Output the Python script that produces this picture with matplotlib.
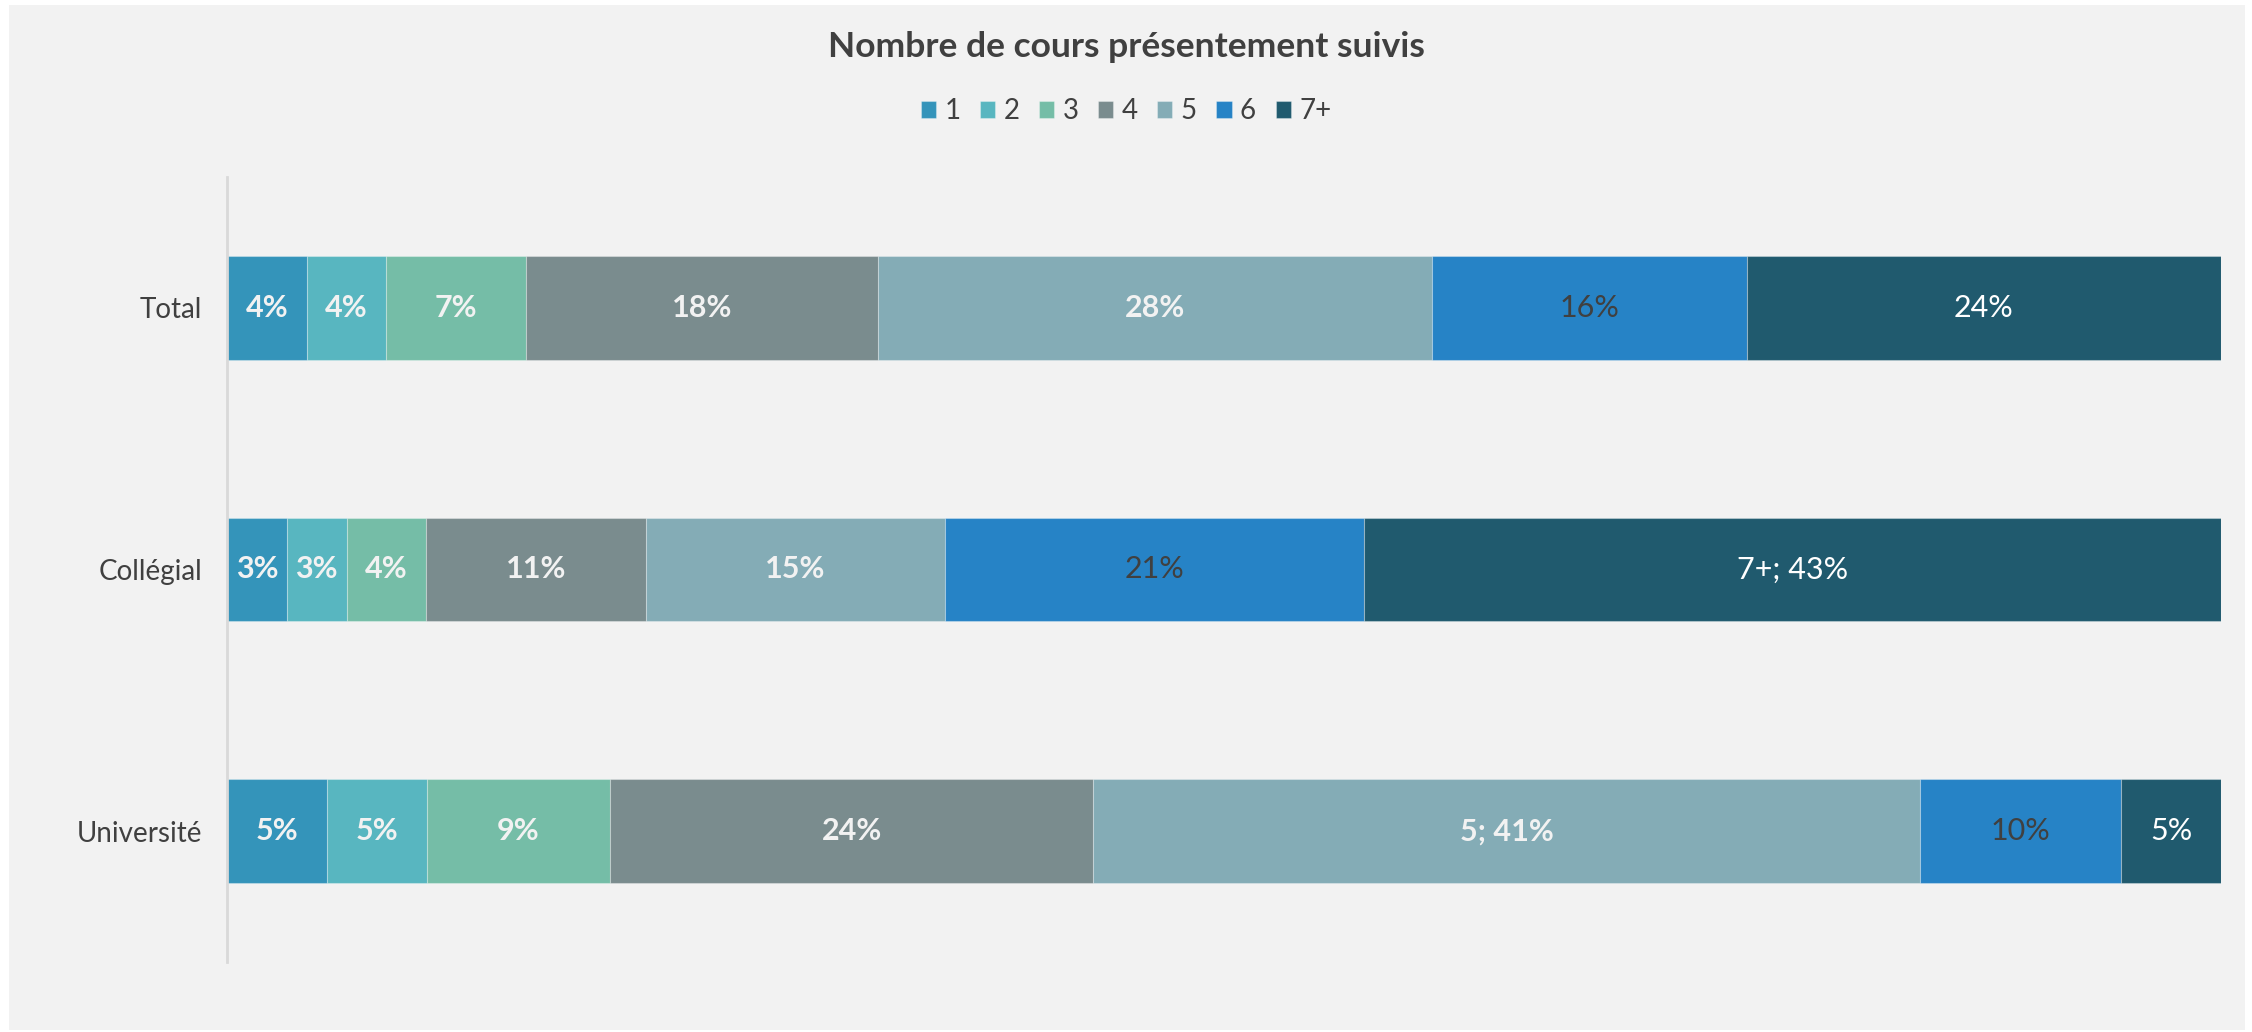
import matplotlib
matplotlib.use("Agg")
import matplotlib.pyplot as plt
from matplotlib.patches import Rectangle
import numpy as np

categories = ["Total", "Collégial", "Université"]
series_names = ["1", "2", "3", "4", "5", "6", "7+"]
s1 = [4.0, 3.0, 5.0]
s2 = [4.0, 3.0, 5.0]
s3 = [7.0, 4.0, 9.2]
s4 = [17.7, 11.0, 24.2]
s5 = [27.8, 15.0, 41.4]
s6 = [15.8, 21.0, 10.1]
s7 = [23.8, 43.0, 5.0]
series_values = [s1, s2, s3, s4, s5, s6, s7]
# data labels that show the series name too: (category, series)
name_labels = [("Collégial", "7+"), ("Université", "5")]

colors = ["#3494BA", "#58B6C0", "#75BDA7", "#7A8C8E", "#84ACB6", "#2683C6", "#205A6E"]
label_colors = ["#F2F2F2"] * 5 + ["#404040", "#FFFFFF"]
label_weights = ["bold"] * 5 + ["normal", "normal"]

plt.rcParams["font.family"] = ["Lato", "DejaVu Sans"]

W, H = 2252, 1032
fig = plt.figure(figsize=(W / 100, H / 100), dpi=100, facecolor="white")
fig.patches.append(Rectangle((9 / W, 2 / H), (2245 - 9) / W, (1027 - 2) / H,
                             transform=fig.transFigure, facecolor="#F2F2F2",
                             edgecolor="none", zorder=-10))

ax_left, ax_right = 227 / W, 2221 / W
ax_top, ax_bot = 1 - 177 / H, 1 - 962 / H
ax = fig.add_axes([ax_left, ax_bot, ax_right - ax_left, ax_top - ax_bot])
ax.set_facecolor("none")
ax.set_zorder(5)

vals = np.array(series_values, dtype=float)
totals = vals.sum(axis=0)
shares = vals / totals * 100
ypos = np.arange(len(categories))[::-1]
left = np.zeros(len(categories))
for i, name in enumerate(series_names):
    ax.barh(ypos, shares[i], left=left, height=0.395, color=colors[i],
            edgecolor=(1, 1, 1, 0.3), linewidth=0.8, label=name, zorder=2)
    for j, cat in enumerate(categories):
        txt = f"{vals[i, j]:.0f}%"
        if (cat, name) in name_labels:
            txt = f"{name}; {txt}"
        ax.text(left[j] + shares[i, j] / 2, ypos[j], txt, ha="center", va="center",
                color=label_colors[i], fontweight=label_weights[i], fontsize=22, zorder=3)
    left += shares[i]

ax.set_xlim(0, 100)
ax.set_ylim(-0.5, len(categories) - 0.5)
ax.set_yticks(ypos)
ax.set_yticklabels(categories, fontsize=20, color="#404040")
ax.tick_params(axis="y", length=0, pad=18)
ax.set_xticks([])
for s in ["top", "right", "bottom"]:
    ax.spines[s].set_visible(False)
ax.spines["left"].set_color("#D9D9D9")
ax.spines["left"].set_linewidth(2)

fig.text(0.5, 1 - 47 / H, "Nombre de cours présentement suivis", ha="center", va="center",
         fontsize=25.5, fontweight="bold", color="#404040")
fig.legend(loc="center", bbox_to_anchor=(0.5, 1 - 111 / H), ncol=7, frameon=False,
           fontsize=20, handlelength=0.55, handleheight=0.55, handletextpad=0.3,
           columnspacing=0.7, labelcolor="#404040")

fig.savefig("out.png", dpi=100, facecolor="white")
